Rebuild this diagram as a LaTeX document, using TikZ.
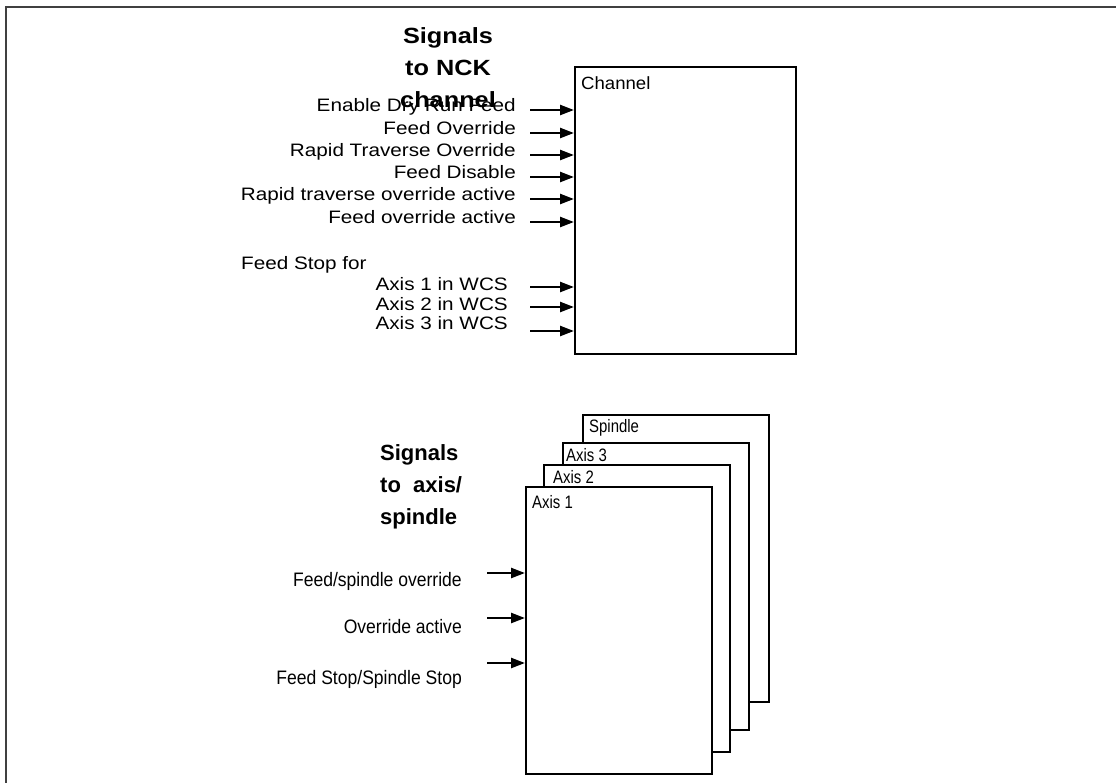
\documentclass[tikz,border=0pt]{standalone}
\usepackage{fontspec}
\setmainfont{Liberation Sans}
\newfontfamily\widefont{Liberation Sans}[FakeStretch=1.15]
\newfontfamily\chanfont{Liberation Sans}[FakeStretch=1.05]
\newfontfamily\narrowfont{Liberation Sans}[FakeStretch=0.9]
\newfontfamily\slimfont{Liberation Sans}[FakeStretch=0.83]
\usetikzlibrary{arrows.meta,positioning}

\begin{document}
\begin{tikzpicture}[
        x=1pt,
        y=-1pt,
        frame/.style={draw=black!75, line width=2pt},
        unitbox/.style={draw, line width=2pt, fill=white, inner sep=0pt, anchor=north west},
        sig/.style={line width=2.4pt, -{Triangle[length=14pt, width=10pt]}},
        siglabel/.style={inner sep=0pt, font=\widefont\fontsize{18}{22}\selectfont},
        axlabel/.style={inner sep=0pt, font=\narrowfont\fontsize{19.5}{22}\selectfont},
        boxlabel/.style={inner sep=0pt, anchor=base west, font=\slimfont\fontsize{18}{20}\selectfont},
        headline/.style={inner sep=0pt, font=\bfseries\fontsize{22}{32}\selectfont}
    ]
        \useasboundingbox (0,0) rectangle (1116,782);
        \clip (0,0) rectangle (1116,782);
        \draw[frame] (6,7) rectangle (1140,810);

        % channel
        \node[unitbox, minimum width=221pt, minimum height=287pt] (chan) at (574,66) {};
        \node[boxlabel, font=\chanfont\fontsize{17.7}{20}\selectfont] (chanlab)
            at ([shift={(7,23)}]chan.north west) {Channel};
        \node[headline, font=\widefont\bfseries\fontsize{22}{32}\selectfont, align=center] (nckhead)
            at (448,68) {Signals\\to NCK\\channel};

        \foreach \i/\y/\txt in {1/110/Enable Dry Run Feed, 2/133/Feed Override,
                3/155/Rapid Traverse Override, 4/177/Feed Disable,
                5/199/Rapid traverse override active, 6/222/Feed override active} {
            \coordinate (in\i) at (530,\y);
            \draw[sig] (in\i) -- (in\i -| chan.west);
            \node[siglabel, anchor=base east] (lab\i) at (516,\y+1) {\txt};
        }

        \node[siglabel, anchor=base west] (stophead) at (241,269) {Feed Stop for};
        \foreach \i/\y/\ly in {1/287/290, 2/307/310, 3/331/329} {
            \coordinate (wcs\i) at (530,\y);
            \draw[sig] (wcs\i) -- (wcs\i -| chan.west);
            \node[siglabel, anchor=base east] (wcslab\i) at (508,\ly) {Axis \i{} in WCS};
        }

        % axis / spindle stack
        \foreach \name/\lab/\x/\y/\dx/\dy in {spin/Spindle/582/414/7/18, ax3/Axis 3/562/442/4/19,
                ax2/Axis 2/543/464/10/19, ax1/Axis 1/525/486/7/22} {
            \node[unitbox, minimum width=186pt, minimum height=287pt] (\name) at (\x,\y) {};
            \node[boxlabel] (\name lab) at ([shift={(\dx,\dy)}]\name.north west) {\lab};
        }
        \node[headline, align=left, anchor=west] (axhead)
            at (380,487) {Signals\\to\ \ axis/\\spindle};

        \foreach \i/\y/\ly/\txt in {1/573/586/{Feed/spindle override}, 2/618/633/{Override active},
                3/663/684/{Feed Stop/Spindle Stop}} {
            \coordinate (ain\i) at (487,\y);
            \draw[sig] (ain\i) -- (ain\i -| ax1.west);
            \node[axlabel, anchor=base east] (alab\i) at (462,\ly) {\txt};
        }
    \end{tikzpicture}
\end{document}
